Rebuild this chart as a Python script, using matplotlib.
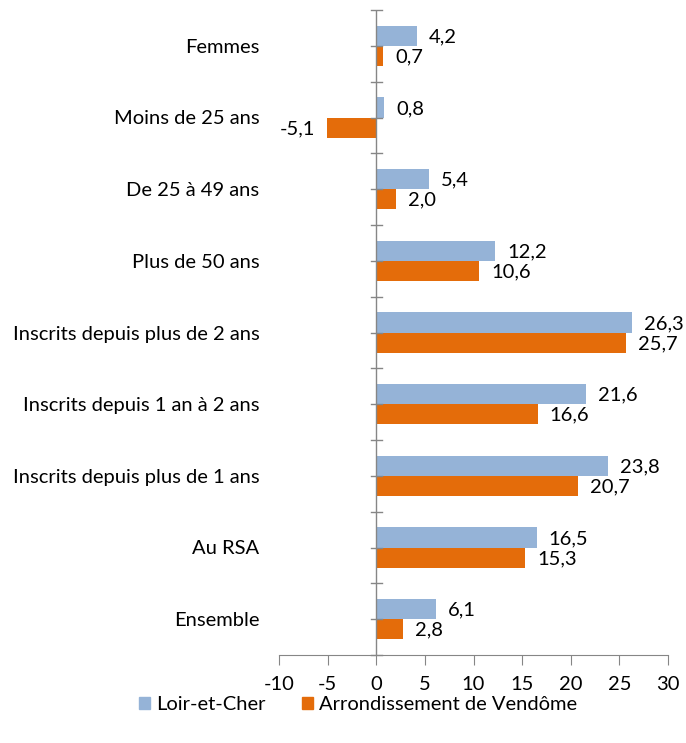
import numpy as np
import matplotlib
matplotlib.use("Agg")
import matplotlib.pyplot as plt
from matplotlib.patches import Patch

plt.rcParams['font.family'] = ['Lato', 'DejaVu Sans']

# categories listed from top to bottom
categories = [
    "Femmes",
    "Moins de 25 ans",
    "De 25 à 49 ans",
    "Plus de 50 ans",
    "Inscrits depuis plus de 2 ans",
    "Inscrits depuis 1 an à 2 ans",
    "Inscrits depuis plus de 1 ans",
    "Au RSA",
    "Ensemble",
]
loir_et_cher = [4.2, 0.8, 5.4, 12.2, 26.3, 21.6, 23.8, 16.5, 6.1]
vendome = [0.7, -5.1, 2.0, 10.6, 25.7, 16.6, 20.7, 15.3, 2.8]
series_names = ["Loir-et-Cher", "Arrondissement de Vendôme"]
x_ticks = [-10, -5, 0, 5, 10, 15, 20, 25, 30]

blue = "#95B3D7"
orange = "#E46C0A"
axis_grey = "#868686"
fs = 14.5

fig = plt.figure(figsize=(6.86, 7.43), dpi=100)
ax = fig.add_axes([279 / 686, 1 - 655 / 743, 389 / 686, 645 / 743])

n = len(categories)
y = np.arange(n)[::-1].astype(float)
h = 0.28

ax.barh(y + h / 2, loir_et_cher, height=h, color=blue)
ax.barh(y - h / 2, vendome, height=h, color=orange)

def fmt(v):
    return f"{v:.1f}".replace(".", ",")

for ys, vals in [(y + h / 2, loir_et_cher), (y - h / 2, vendome)]:
    for yi, v in zip(ys, vals):
        ax.annotate(fmt(v), (v, yi), xytext=(12 if v >= 0 else -12, -1),
                    textcoords="offset pixels",
                    ha="left" if v >= 0 else "right", va="center", fontsize=fs)

ax.set_xlim(-10, 30)
ax.set_ylim(-0.5, n - 0.5)
ax.set_xticks(x_ticks)
ax.set_xticklabels([str(t) for t in x_ticks], fontsize=fs)

# category axis drawn at x = 0, labels kept on the left edge
ax.set_yticks(y)
ax.set_yticklabels(categories, fontsize=fs)
ax.tick_params(axis="y", length=0, pad=14)
for yy in np.arange(-0.5, n, 0.5):
    ax.plot([-0.55, 0.55], [yy, yy], color=axis_grey, lw=1, clip_on=False)

for side in ["top", "right", "left"]:
    ax.spines[side].set_visible(False)
ax.spines["bottom"].set_color(axis_grey)
ax.axvline(0, color=axis_grey, lw=1)
ax.tick_params(axis="x", direction="out", length=7, color=axis_grey, pad=8)

handles = [Patch(color=blue), Patch(color=orange)]
fig.legend(handles, series_names, loc="center", bbox_to_anchor=(358 / 686, 1 - 705 / 743),
           ncol=2, frameon=False, fontsize=fs, handlelength=0.55, handleheight=0.55,
           handletextpad=0.3, columnspacing=1.8)

fig.savefig("out.png", dpi=100)
